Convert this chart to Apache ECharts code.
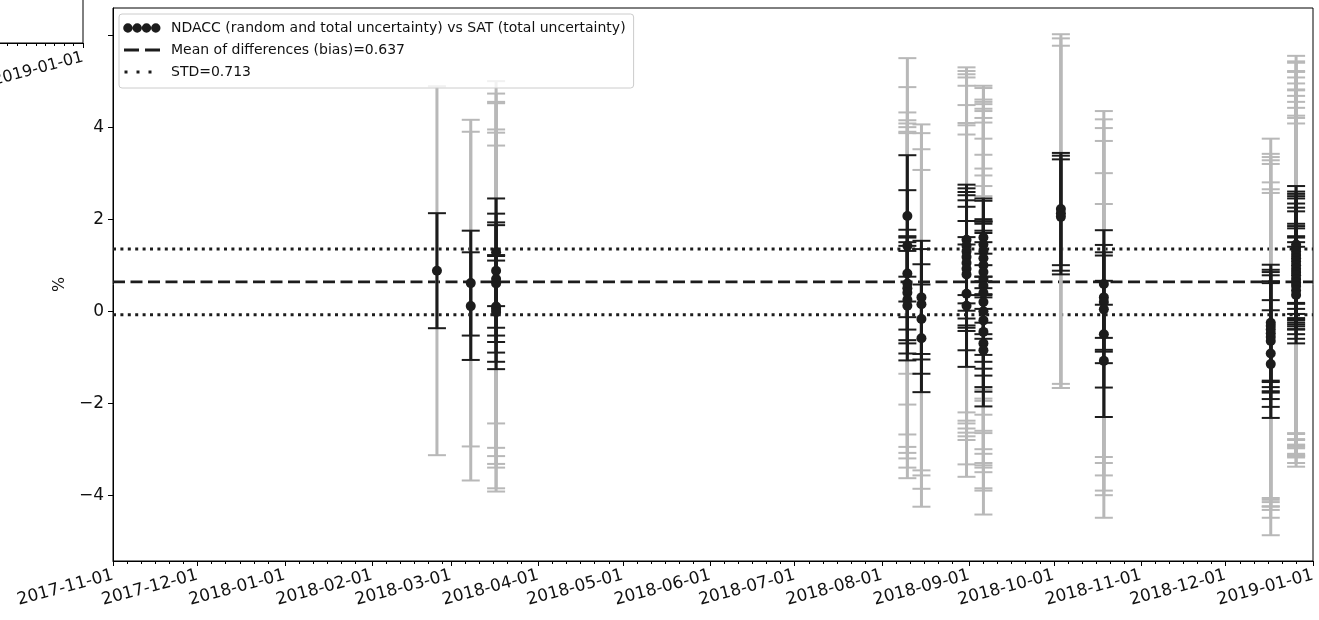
<!DOCTYPE html>
<html><head><meta charset="utf-8">
<script src="https://cdn.jsdelivr.net/npm/echarts@6/dist/echarts.min.js"></script>
<style>html,body{margin:0;padding:0;background:#fff}#c{width:1319px;height:620px}</style>
</head><body><div id="c"></div>
<script>
// ---------------- data ----------------
const xStart = '2017-11-01';
const xEnd = '2019-01-01';
const monthTicks = ['2017-11-01','2017-12-01','2018-01-01','2018-02-01','2018-03-01','2018-04-01','2018-05-01',
  '2018-06-01','2018-07-01','2018-08-01','2018-09-01','2018-10-01','2018-11-01','2018-12-01','2019-01-01'];
const minorDays = [1, 6, 11, 16, 21, 26];
const yTicks = [-4, -2, 0, 2, 4, 6];
const yLabelValues = [-4, -2, 0, 2, 4];
const yMin = -5.43, yMax = 6.59;
const bias = 0.637;
const std = 0.713;
const nameMain = 'NDACC (random and total uncertainty) vs SAT (total uncertainty)';
const nameBias = 'Mean of differences (bias)=0.637';
const nameStd = 'STD=0.713';

// one entry per comparison: date, difference (%), random uncertainty (%), total uncertainty (%)
const obsDates = [
  '2018-02-24',
  '2018-03-08','2018-03-08',
  '2018-03-17','2018-03-17','2018-03-17','2018-03-17','2018-03-17','2018-03-17','2018-03-17',
  '2018-08-10','2018-08-10','2018-08-10','2018-08-10','2018-08-10','2018-08-10','2018-08-10','2018-08-10',
  '2018-08-15','2018-08-15','2018-08-15','2018-08-15',
  '2018-08-31','2018-08-31','2018-08-31','2018-08-31','2018-08-31','2018-08-31','2018-08-31','2018-08-31','2018-08-31',
  '2018-09-06','2018-09-06','2018-09-06','2018-09-06','2018-09-06','2018-09-06','2018-09-06','2018-09-06',
  '2018-09-06','2018-09-06','2018-09-06','2018-09-06','2018-09-06','2018-09-06','2018-09-06',
  '2018-10-03T12:00Z','2018-10-03T12:00Z','2018-10-03T12:00Z',
  '2018-10-18T18:00Z','2018-10-18T18:00Z','2018-10-18T18:00Z','2018-10-18T18:00Z','2018-10-18T18:00Z','2018-10-18T18:00Z',
  '2018-12-17','2018-12-17','2018-12-17','2018-12-17','2018-12-17','2018-12-17','2018-12-17','2018-12-17',
  '2018-12-26','2018-12-26','2018-12-26','2018-12-26','2018-12-26','2018-12-26','2018-12-26','2018-12-26',
  '2018-12-26','2018-12-26','2018-12-26','2018-12-26','2018-12-26','2018-12-26','2018-12-26'
];
const diffValues = [
  0.88,
  0.61, 0.11,
  1.28, 0.88, 0.70, 0.60, 0.10, 0.05, -0.02,
  2.07, 1.42, 0.82, 0.60, 0.50, 0.40, 0.25, 0.12,
  0.30, 0.15, -0.17, -0.59,
  1.55, 1.42, 1.30, 1.18, 1.05, 0.92, 0.80, 0.38, 0.12,
  1.60, 1.45, 1.30, 1.15, 1.00, 0.85, 0.70, 0.55, 0.40, 0.20, 0.00, -0.20, -0.45, -0.70, -0.85,
  2.22, 2.13, 2.05,
  0.59, 0.30, 0.20, 0.04, -0.50, -1.08,
  -0.25, -0.32, -0.40, -0.48, -0.56, -0.65, -0.92, -1.15,
  1.45, 1.38, 1.30, 1.22, 1.15, 1.08, 1.00, 0.92, 0.85, 0.78, 0.70, 0.62, 0.55, 0.45, 0.35
];
const randomUnc = [
  1.25,
  1.14, 1.17,
  1.17, 1.24, 1.23, 1.27, 1.00, 1.15, 1.24,
  1.32, 1.21, 0.95, 1.00, 1.13, 1.10, 1.17, 1.19,
  1.23, 1.20, 1.19, 1.17,
  1.20, 1.25, 1.29, 1.34, 1.36, 1.35, 1.16, 1.23, 1.33,
  0.85, 0.95, 0.65, 0.85, 0.95, 1.10, 1.20, 1.15, 1.35, 1.30, 1.25, 1.20, 1.20, 1.05, 1.22,
  1.22, 1.25, 1.25,
  1.17, 1.14, 1.08, 1.17, 1.16, 1.22,
  1.26, 1.22, 1.25, 1.26, 1.21, 1.26, 1.16, 1.17,
  1.27, 1.22, 1.25, 1.28, 1.30, 1.26, 1.25, 1.25, 1.05, 1.07, 1.10, 1.01, 1.05, 1.05, 1.05
];
const totalUnc = [
  4.01,
  3.55, 3.79,
  3.72, 3.85, 3.85, 3.92, 3.50, 3.90, 3.90,
  3.43, 3.45, 3.50, 3.55, 3.58, 3.60, 3.65, 3.75,
  3.76, 3.72, 3.69, 3.66,
  3.75, 3.80, 3.85, 3.90, 3.85, 3.56, 3.24, 3.71, 3.72,
  3.30, 3.40, 3.20, 3.40, 3.60, 3.50, 3.70, 3.65, 3.70, 3.55, 3.40, 3.30, 3.40, 3.20, 3.57,
  3.80, 3.80, 3.72,
  3.76, 3.87, 3.50, 3.94, 3.50, 3.41,
  4.00, 3.74, 3.75, 3.76, 3.76, 3.45, 3.57, 3.72,
  4.10, 4.05, 4.10, 4.00, 4.05, 4.00, 3.95, 3.90, 3.95, 3.90, 3.85, 3.80, 3.70, 3.75, 3.73
];

// neighbouring panel (only its lower-right corner is visible)
const prevPanelEnd = '2019-01-01';
const prevPanelDays = 150;

// ---------------- helpers ----------------
const FONT = 'DejaVu Sans';
const BLACK = '#1c1c1c';
const GREY = '#b8b8b8';
const DAY = 86400000;
const T = s => Date.parse(s.length === 10 ? s + 'T00:00:00Z' : s);
const pad2 = n => (n < 10 ? '0' : '') + n;
const fmtDate = v => { const d = new Date(v); return d.getUTCFullYear() + '-' + pad2(d.getUTCMonth() + 1) + '-' + pad2(d.getUTCDate()); };
const fmtY = v => (v < 0 ? '\u2212' + Math.abs(v) : String(v));

const monthT = monthTicks.map(T);
const minorT = [];
monthTicks.slice(0, -1).forEach(m => { minorDays.forEach(d => { if (d !== 1) minorT.push(T(m) + (d - 1) * DAY); }); });

const greyData = obsDates.map((d, i) => [T(d), diffValues[i] - totalUnc[i], diffValues[i] + totalUnc[i]]);
const blackData = obsDates.map((d, i) => [T(d), diffValues[i] - randomUnc[i], diffValues[i] + randomUnc[i]]);
const pointData = obsDates.map((d, i) => [T(d), diffValues[i]]);

function errRender(color, lw, capHalf, capLw) {
  return function (params, api) {
    const x = api.value(0);
    const lo = api.coord([x, api.value(1)]);
    const hi = api.coord([x, api.value(2)]);
    return {
      type: 'group',
      children: [
        { type: 'line', shape: { x1: lo[0], y1: lo[1], x2: hi[0], y2: hi[1] }, style: { stroke: color, lineWidth: lw } },
        { type: 'line', shape: { x1: lo[0] - capHalf, y1: lo[1], x2: lo[0] + capHalf, y2: lo[1] }, style: { stroke: color, lineWidth: capLw } },
        { type: 'line', shape: { x1: hi[0] - capHalf, y1: hi[1], x2: hi[0] + capHalf, y2: hi[1] }, style: { stroke: color, lineWidth: capLw } }
      ]
    };
  };
}

const x0 = T(xStart), x1 = T(xEnd);
const prevEndT = T(prevPanelEnd);
const prevMinor = [];
for (let k = 0; k <= prevPanelDays; k += 5) prevMinor.push(prevEndT - k * DAY);

// legend icons in a 43x10 box (corner moves fix the bounds)
const BOX = 'M0 0M43 10';
const iconDots = BOX + 'M0.2 5a4.7 4.7 0 1 0 9.4 0a4.7 4.7 0 1 0 -9.4 0z' +
  'M9.5 5a4.7 4.7 0 1 0 9.4 0a4.7 4.7 0 1 0 -9.4 0z' +
  'M18.8 5a4.7 4.7 0 1 0 9.4 0a4.7 4.7 0 1 0 -9.4 0z' +
  'M28.1 5a4.7 4.7 0 1 0 9.4 0a4.7 4.7 0 1 0 -9.4 0z';
const iconDash = BOX + 'M1 3.6h15v2.8h-15z M22 3.6h15v2.8h-15z';
const iconDot = BOX + 'M1.5 3.5h3v3h-3z M13.5 3.5h3v3h-3z M25.5 3.5h3v3h-3z';

const tickStyle = { color: '#000', width: 1 };
const labelFont = { fontFamily: FONT, fontSize: 17, color: '#111' };

const chart = echarts.init(document.getElementById('c'), null, { renderer: 'canvas' });
chart.setOption({
  animation: false,
  backgroundColor: '#ffffff',
  grid: [
    { left: 113, right: 6, top: 8, bottom: 59, show: true, borderColor: '#000', borderWidth: 1, backgroundColor: 'transparent', containLabel: false, outerBoundsMode: 'none' },
    { left: -200, right: 1236, top: -100, bottom: 577, show: true, borderColor: '#000', borderWidth: 1, backgroundColor: 'transparent', containLabel: false, outerBoundsMode: 'none' }
  ],
  legend: {
    orient: 'vertical', left: 119, top: 14,
    itemWidth: 43, itemHeight: 10, itemGap: 8,
    padding: [7, 8, 9, 4],
    backgroundColor: 'rgba(255,255,255,0.8)', borderColor: '#cccccc', borderWidth: 1, borderRadius: 3,
    selectedMode: false,
    itemStyle: { borderWidth: 0 },
    textStyle: { fontFamily: FONT, fontSize: 14, color: '#111' },
    data: [
      { name: nameMain, icon: 'path://' + iconDots },
      { name: nameBias, icon: 'path://' + iconDash },
      { name: nameStd, icon: 'path://' + iconDot }
    ]
  },
  xAxis: [
    {
      type: 'value', gridIndex: 0, min: x0, max: x1, position: 'bottom',
      axisLine: { show: true, onZero: false, lineStyle: tickStyle },
      axisTick: { show: true, customValues: monthT, length: 5, lineStyle: tickStyle },
      axisLabel: Object.assign({ customValues: monthT, formatter: v => fmtDate(v), rotate: 15, margin: 14, hideOverlap: false }, labelFont),
      splitLine: { show: false }
    },
    {
      type: 'value', gridIndex: 0, min: x0, max: x1, position: 'bottom',
      axisLine: { show: false, onZero: false },
      axisTick: { show: true, customValues: minorT, length: 3, lineStyle: tickStyle },
      axisLabel: { show: false },
      splitLine: { show: false }
    },
    {
      type: 'value', gridIndex: 1, min: prevEndT - prevPanelDays * DAY, max: prevEndT, position: 'bottom',
      axisLine: { show: true, onZero: false, lineStyle: tickStyle },
      axisTick: { show: true, customValues: [prevEndT], length: 5, lineStyle: tickStyle },
      axisLabel: Object.assign({ customValues: [prevEndT], formatter: v => fmtDate(v), rotate: 15, margin: 14, hideOverlap: false }, labelFont, { fontSize: 16 }),
      splitLine: { show: false }
    },
    {
      type: 'value', gridIndex: 1, min: prevEndT - prevPanelDays * DAY, max: prevEndT, position: 'bottom',
      axisLine: { show: false, onZero: false },
      axisTick: { show: true, customValues: prevMinor, length: 3, lineStyle: tickStyle },
      axisLabel: { show: false },
      splitLine: { show: false }
    }
  ],
  yAxis: [
    {
      type: 'value', gridIndex: 0, min: yMin, max: yMax,
      axisLine: { show: true, onZero: false, lineStyle: tickStyle },
      axisTick: { show: true, customValues: yTicks, length: 5, lineStyle: tickStyle },
      axisLabel: Object.assign({ customValues: yLabelValues, formatter: v => fmtY(v), margin: 9 }, labelFont),
      splitLine: { show: false },
      name: '%', nameLocation: 'middle', nameGap: 45, nameRotate: 90,
      nameTextStyle: Object.assign({}, labelFont, { fontSize: 16 })
    },
    { type: 'value', gridIndex: 1, min: 0, max: 1, show: false }
  ],
  series: [
    {
      name: nameBias, type: 'line', xAxisIndex: 0, yAxisIndex: 0, symbol: 'none', z: 1,
      data: [[x0, bias], [x1, bias]],
      itemStyle: { color: BLACK },
      lineStyle: { color: BLACK, width: 2.6, type: [12, 5.5] }
    },
    {
      name: nameStd, type: 'line', xAxisIndex: 0, yAxisIndex: 0, symbol: 'none', z: 1,
      data: [[x0, bias + std], [x1, bias + std]],
      itemStyle: { color: BLACK },
      lineStyle: { color: BLACK, width: 3, type: [3, 4.4] }
    },
    {
      name: nameStd, type: 'line', xAxisIndex: 0, yAxisIndex: 0, symbol: 'none', z: 1,
      data: [[x0, bias - std], [x1, bias - std]],
      itemStyle: { color: BLACK },
      lineStyle: { color: BLACK, width: 3, type: [3, 4.4] }
    },
    {
      name: 'total uncertainty', type: 'custom', xAxisIndex: 0, yAxisIndex: 0, z: 2,
      renderItem: errRender(GREY, 3, 9, 2),
      encode: { x: 0, y: [1, 2] },
      data: greyData
    },
    {
      name: 'random uncertainty', type: 'custom', xAxisIndex: 0, yAxisIndex: 0, z: 3,
      renderItem: errRender(BLACK, 3, 9, 2),
      encode: { x: 0, y: [1, 2] },
      data: blackData
    },
    {
      name: nameMain, type: 'scatter', xAxisIndex: 0, yAxisIndex: 0, z: 4,
      symbol: 'circle', symbolSize: 10,
      itemStyle: { color: BLACK, opacity: 1 },
      data: pointData
    }
  ]
});
</script>
</body></html>
